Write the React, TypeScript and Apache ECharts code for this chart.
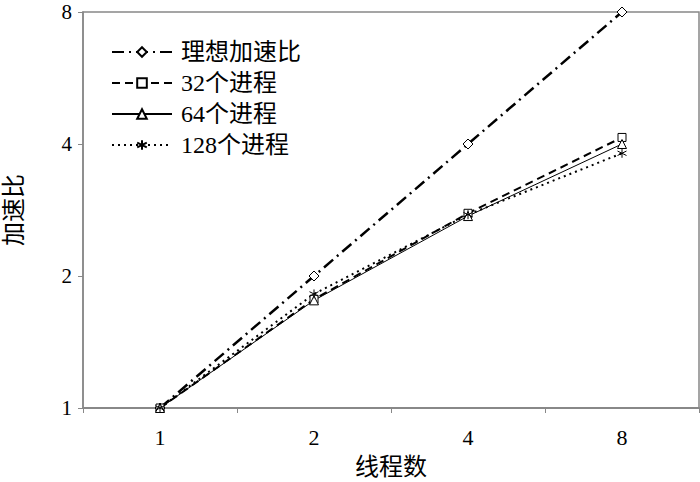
import React, { useEffect, useRef } from "react";
import * as echarts from "echarts";

const categories = ["1", "2", "4", "8"];
const yTicks = [1, 2, 4, 8];
const seriesNames = ["理想加速比", "32个进程", "64个进程", "128个进程"];
const ideal = [1, 2, 4, 8];
const p32 = [1, 1.77, 2.78, 4.14];
const p64 = [1, 1.76, 2.74, 4.0];
const p128 = [1, 1.82, 2.76, 3.81];

const ASTERISK = "path://M5,0L5,10M0.7,2.5L9.3,7.5M0.7,7.5L9.3,2.5";
const FONT = "'Liberation Serif', 'Noto Sans CJK SC', serif";

export default function App() {
  const ref = useRef<HTMLDivElement>(null);
  useEffect(() => {
    if (!ref.current) return;
    const chart = echarts.init(ref.current, undefined, { renderer: "svg" });
    const mk = (name: string, data: number[], line: any, symbol: string, size: number) => ({
      name,
      type: "line",
      data,
      symbol,
      symbolSize: size,
      showSymbol: true,
      lineStyle: { color: "#000", ...line },
      itemStyle: { color: "#fff", borderColor: "#000", borderWidth: 1 },
      emphasis: { disabled: true },
    });
    chart.setOption({
      animation: false,
      backgroundColor: "#fff",
      textStyle: { fontFamily: FONT },
      grid: {
        left: 83,
        top: 12,
        right: 1,
        bottom: 74,
        show: true,
        borderColor: "#888",
        borderWidth: 1.5,
        outerBoundsMode: "none",
        containLabel: false,
      },
      legend: {
        orient: "vertical",
        left: 106,
        top: 35,
        itemWidth: 60,
        itemHeight: 12,
        itemGap: 7,
        data: seriesNames,
        textStyle: { fontSize: 24, color: "#000", fontFamily: FONT, padding: [0, 0, 0, 4] },
      },
      xAxis: {
        type: "category",
        data: categories,
        boundaryGap: true,
        axisLine: { lineStyle: { color: "#888", width: 2 } },
        axisTick: { show: true, length: 5, lineStyle: { color: "#888" } },
        axisLabel: { fontSize: 22, color: "#000", margin: 18, fontFamily: FONT },
        name: "线程数",
        nameLocation: "middle",
        nameGap: 47,
        nameTextStyle: { fontSize: 24, color: "#000", fontFamily: FONT },
      },
      yAxis: {
        type: "log",
        logBase: 2,
        min: yTicks[0],
        max: yTicks[yTicks.length - 1],
        axisLine: { show: true, lineStyle: { color: "#888", width: 1.5 } },
        axisTick: { show: true, length: 5, lineStyle: { color: "#888" } },
        splitLine: { show: false },
        axisLabel: { fontSize: 21, color: "#000", margin: 11, fontFamily: FONT },
        name: "加速比",
        nameLocation: "middle",
        nameRotate: 90,
        nameGap: 57,
        nameTextStyle: { fontSize: 24, color: "#000", fontFamily: FONT },
      },
      series: [
        mk(seriesNames[0], ideal, { width: 2.5, type: [12, 5, 2, 5] }, "diamond", 10),
        mk(seriesNames[1], p32, { width: 2, type: [8, 5] }, "rect", 8),
        mk(seriesNames[2], p64, { width: 1, type: "solid" }, "triangle", 9),
        mk(seriesNames[3], p128, { width: 2, type: [2, 4] }, ASTERISK, 9),
      ],
    });
    return () => chart.dispose();
  }, []);
  return <div ref={ref} style={{ position: "fixed", left: 0, top: 0, width: 700, height: 482 }} />;
}
